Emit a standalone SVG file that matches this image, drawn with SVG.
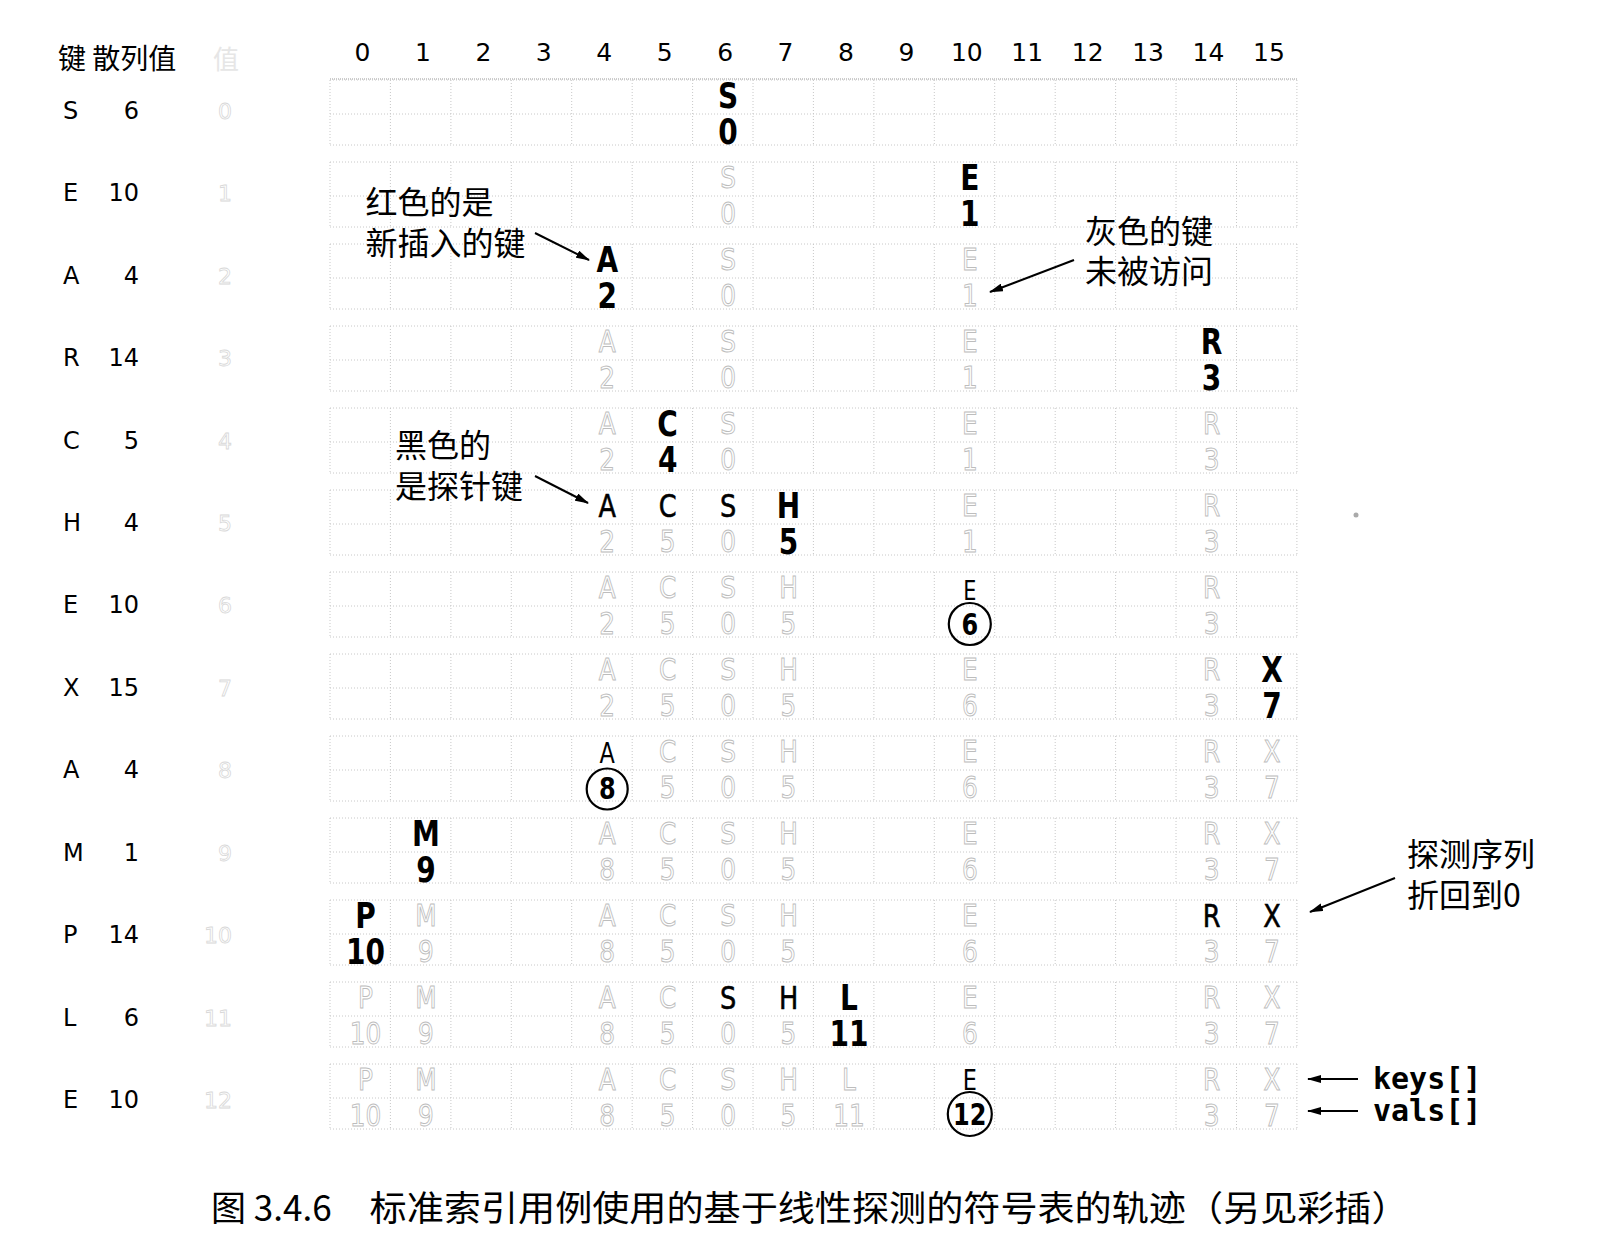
<svg xmlns="http://www.w3.org/2000/svg" xmlns:xlink="http://www.w3.org/1999/xlink" width="1601" height="1253" viewBox="0 0 1601 1253">
<style>
.kb{font-family:"DejaVu Sans",sans-serif;font-weight:bold;font-size:35px;text-anchor:middle;fill:#000}
.kg{font-family:"DejaVu Sans",sans-serif;font-size:31px;text-anchor:middle;fill:#fff;stroke:#bdbdbd;stroke-width:1}
.kp{font-family:"DejaVu Sans",sans-serif;font-size:32px;text-anchor:middle;fill:#000;stroke:#000;stroke-width:.6}
.ke{font-family:"DejaVu Sans",sans-serif;font-size:26px;text-anchor:middle;fill:#000}
.kc{font-family:"DejaVu Sans",sans-serif;font-weight:bold;font-size:30px;text-anchor:middle;fill:#000}
.circ{fill:none;stroke:#000;stroke-width:2.2}
.grid{fill:none;stroke:#c8c8c8;stroke-width:1;stroke-dasharray:1 2}
.lab{font-family:"DejaVu Sans",sans-serif;font-size:24px;fill:#000}
.idx{font-family:"DejaVu Sans",sans-serif;font-size:22px;fill:#fff;stroke:#d8d8d8;stroke-width:.8;text-anchor:end}
.hd{font-family:"DejaVu Sans",sans-serif;font-size:25px;fill:#000;text-anchor:middle}
.cjk{font-family:"Noto Sans CJK SC",sans-serif;font-size:32px;fill:#000}
.mono{font-family:"DejaVu Sans Mono",monospace;font-weight:bold;font-size:30px;fill:#000}
.arr{fill:none;stroke:#000;stroke-width:2;marker-end:url(#ah)}
</style>
<defs>
<marker id="ah" viewBox="0 0 14 8" refX="13" refY="4" markerWidth="14" markerHeight="8" markerUnits="userSpaceOnUse" orient="auto">
<path d="M0,0 L14,4 L0,8 Z" fill="#000"/>
</marker>
<path id="gridrow" class="grid" d="M330,-15H1297M330,19H1297M330,50H1297M330,-15V50M390.4,-15V50M450.9,-15V50M511.3,-15V50M571.7,-15V50M632.2,-15V50M692.6,-15V50M753,-15V50M813.4,-15V50M873.9,-15V50M934.3,-15V50M994.7,-15V50M1055.2,-15V50M1115.6,-15V50M1176,-15V50M1236.5,-15V50M1296.9,-15V50"/>
</defs>
<rect width="1601" height="1253" fill="#fff"/>

<g id="grid">
<line x1="330" y1="79" x2="1297" y2="79" stroke="#999" stroke-width="1" stroke-dasharray="1 1"/>
<use href="#gridrow" y="95"/>
<use href="#gridrow" y="177"/>
<use href="#gridrow" y="259"/>
<use href="#gridrow" y="341"/>
<use href="#gridrow" y="423"/>
<use href="#gridrow" y="505"/>
<use href="#gridrow" y="587"/>
<use href="#gridrow" y="669"/>
<use href="#gridrow" y="751"/>
<use href="#gridrow" y="833"/>
<use href="#gridrow" y="915"/>
<use href="#gridrow" y="997"/>
<use href="#gridrow" y="1079"/>
</g>

<g id="header">
<text class="cjk" x="58" y="69" style="font-size:28px">键 散列值</text>
<text class="cjk" x="213" y="69" style="font-size:26px;fill:#e6e6e6">值</text>
<text class="hd" x="362.5" y="61">0</text>
<text class="hd" x="422.9" y="61">1</text>
<text class="hd" x="483.4" y="61">2</text>
<text class="hd" x="543.8" y="61">3</text>
<text class="hd" x="604.2" y="61">4</text>
<text class="hd" x="664.7" y="61">5</text>
<text class="hd" x="725.1" y="61">6</text>
<text class="hd" x="785.5" y="61">7</text>
<text class="hd" x="845.9" y="61">8</text>
<text class="hd" x="906.4" y="61">9</text>
<text class="hd" x="966.8" y="61">10</text>
<text class="hd" x="1027.2" y="61">11</text>
<text class="hd" x="1087.7" y="61">12</text>
<text class="hd" x="1148.1" y="61">13</text>
<text class="hd" x="1208.5" y="61">14</text>
<text class="hd" x="1268.9" y="61">15</text>
</g>

<g id="labels">
<text class="lab" x="63" y="118.7">S</text><text class="lab" x="139" y="118.7" text-anchor="end">6</text><text class="idx" x="232" y="118.7">0</text>
<text class="lab" x="63" y="201.2">E</text><text class="lab" x="139" y="201.2" text-anchor="end">10</text><text class="idx" x="232" y="201.2">1</text>
<text class="lab" x="63" y="283.6">A</text><text class="lab" x="139" y="283.6" text-anchor="end">4</text><text class="idx" x="232" y="283.6">2</text>
<text class="lab" x="63" y="366.1">R</text><text class="lab" x="139" y="366.1" text-anchor="end">14</text><text class="idx" x="232" y="366.1">3</text>
<text class="lab" x="63" y="448.5">C</text><text class="lab" x="139" y="448.5" text-anchor="end">5</text><text class="idx" x="232" y="448.5">4</text>
<text class="lab" x="63" y="531">H</text><text class="lab" x="139" y="531" text-anchor="end">4</text><text class="idx" x="232" y="531">5</text>
<text class="lab" x="63" y="613.4">E</text><text class="lab" x="139" y="613.4" text-anchor="end">10</text><text class="idx" x="232" y="613.4">6</text>
<text class="lab" x="63" y="695.9">X</text><text class="lab" x="139" y="695.9" text-anchor="end">15</text><text class="idx" x="232" y="695.9">7</text>
<text class="lab" x="63" y="778.3">A</text><text class="lab" x="139" y="778.3" text-anchor="end">4</text><text class="idx" x="232" y="778.3">8</text>
<text class="lab" x="63" y="860.8">M</text><text class="lab" x="139" y="860.8" text-anchor="end">1</text><text class="idx" x="232" y="860.8">9</text>
<text class="lab" x="63" y="943.2">P</text><text class="lab" x="139" y="943.2" text-anchor="end">14</text><text class="idx" x="232" y="943.2">10</text>
<text class="lab" x="63" y="1025.7">L</text><text class="lab" x="139" y="1025.7" text-anchor="end">6</text><text class="idx" x="232" y="1025.7">11</text>
<text class="lab" x="63" y="1108.1">E</text><text class="lab" x="139" y="1108.1" text-anchor="end">10</text><text class="idx" x="232" y="1108.1">12</text>
</g>

<g id="row0" transform="translate(3,95)"><g transform="scale(.8,1)">
<text class="kb" x="906.4" y="13">S</text><text class="kb" x="906.4" y="49">0</text>
</g></g>

<g id="row1" transform="translate(3,177)"><g transform="scale(.8,1)">
<text class="kg" x="906.4" y="11">S</text><text class="kg" x="906.4" y="47">0</text>
<text class="kb" x="1208.5" y="13">E</text><text class="kb" x="1208.5" y="49">1</text>
</g></g>

<g id="row2" transform="translate(3,259)"><g transform="scale(.8,1)">
<text class="kb" x="755.3" y="13">A</text><text class="kb" x="755.3" y="49">2</text>
<text class="kg" x="906.4" y="11">S</text><text class="kg" x="906.4" y="47">0</text>
<text class="kg" x="1208.5" y="11">E</text><text class="kg" x="1208.5" y="47">1</text>
</g></g>

<g id="row3" transform="translate(3,341)"><g transform="scale(.8,1)">
<text class="kg" x="755.3" y="11">A</text><text class="kg" x="755.3" y="47">2</text>
<text class="kg" x="906.4" y="11">S</text><text class="kg" x="906.4" y="47">0</text>
<text class="kg" x="1208.5" y="11">E</text><text class="kg" x="1208.5" y="47">1</text>
<text class="kb" x="1510.7" y="13">R</text><text class="kb" x="1510.7" y="49">3</text>
</g></g>

<g id="row4" transform="translate(3,423)"><g transform="scale(.8,1)">
<text class="kg" x="755.3" y="11">A</text><text class="kg" x="755.3" y="47">2</text>
<text class="kb" x="830.8" y="13">C</text><text class="kb" x="830.8" y="49">4</text>
<text class="kg" x="906.4" y="11">S</text><text class="kg" x="906.4" y="47">0</text>
<text class="kg" x="1208.5" y="11">E</text><text class="kg" x="1208.5" y="47">1</text>
<text class="kg" x="1510.7" y="11">R</text><text class="kg" x="1510.7" y="47">3</text>
</g></g>

<g id="row5" transform="translate(3,505)"><g transform="scale(.8,1)">
<text class="kp" x="755.3" y="12">A</text><text class="kg" x="755.3" y="47">2</text>
<text class="kp" x="830.8" y="12">C</text><text class="kg" x="830.8" y="47">5</text>
<text class="kp" x="906.4" y="12">S</text><text class="kg" x="906.4" y="47">0</text>
<text class="kb" x="981.9" y="13">H</text><text class="kb" x="981.9" y="49">5</text>
<text class="kg" x="1208.5" y="11">E</text><text class="kg" x="1208.5" y="47">1</text>
<text class="kg" x="1510.7" y="11">R</text><text class="kg" x="1510.7" y="47">3</text>
</g></g>

<g id="row6" transform="translate(3,587)">
<g transform="scale(.8,1)">
<text class="kg" x="755.3" y="11">A</text><text class="kg" x="755.3" y="47">2</text>
<text class="kg" x="830.8" y="11">C</text><text class="kg" x="830.8" y="47">5</text>
<text class="kg" x="906.4" y="11">S</text><text class="kg" x="906.4" y="47">0</text>
<text class="kg" x="981.9" y="11">H</text><text class="kg" x="981.9" y="47">5</text>
<text class="ke" x="1208.5" y="13">E</text><text class="kc" x="1208.5" y="48">6</text>
<text class="kg" x="1510.7" y="11">R</text><text class="kg" x="1510.7" y="47">3</text>
</g>
<circle class="circ" cx="966.8" cy="37" r="21"/>
</g>

<g id="row7" transform="translate(3,669)"><g transform="scale(.8,1)">
<text class="kg" x="755.3" y="11">A</text><text class="kg" x="755.3" y="47">2</text>
<text class="kg" x="830.8" y="11">C</text><text class="kg" x="830.8" y="47">5</text>
<text class="kg" x="906.4" y="11">S</text><text class="kg" x="906.4" y="47">0</text>
<text class="kg" x="981.9" y="11">H</text><text class="kg" x="981.9" y="47">5</text>
<text class="kg" x="1208.5" y="11">E</text><text class="kg" x="1208.5" y="47">6</text>
<text class="kg" x="1510.7" y="11">R</text><text class="kg" x="1510.7" y="47">3</text>
<text class="kb" x="1586.2" y="13">X</text><text class="kb" x="1586.2" y="49">7</text>
</g></g>

<g id="row8" transform="translate(3,751)">
<g transform="scale(.8,1)">
<text class="ke" x="755.3" y="12" style="font-size:28px">A</text><text class="kc" x="755.3" y="48">8</text>
<text class="kg" x="830.8" y="11">C</text><text class="kg" x="830.8" y="47">5</text>
<text class="kg" x="906.4" y="11">S</text><text class="kg" x="906.4" y="47">0</text>
<text class="kg" x="981.9" y="11">H</text><text class="kg" x="981.9" y="47">5</text>
<text class="kg" x="1208.5" y="11">E</text><text class="kg" x="1208.5" y="47">6</text>
<text class="kg" x="1510.7" y="11">R</text><text class="kg" x="1510.7" y="47">3</text>
<text class="kg" x="1586.2" y="11">X</text><text class="kg" x="1586.2" y="47">7</text>
</g>
<circle class="circ" cx="604.2" cy="38" r="20.5"/>
</g>

<g id="row9" transform="translate(3,833)"><g transform="scale(.8,1)">
<text class="kb" x="528.7" y="13">M</text><text class="kb" x="528.7" y="49">9</text>
<text class="kg" x="755.3" y="11">A</text><text class="kg" x="755.3" y="47">8</text>
<text class="kg" x="830.8" y="11">C</text><text class="kg" x="830.8" y="47">5</text>
<text class="kg" x="906.4" y="11">S</text><text class="kg" x="906.4" y="47">0</text>
<text class="kg" x="981.9" y="11">H</text><text class="kg" x="981.9" y="47">5</text>
<text class="kg" x="1208.5" y="11">E</text><text class="kg" x="1208.5" y="47">6</text>
<text class="kg" x="1510.7" y="11">R</text><text class="kg" x="1510.7" y="47">3</text>
<text class="kg" x="1586.2" y="11">X</text><text class="kg" x="1586.2" y="47">7</text>
</g></g>

<g id="row10" transform="translate(3,915)"><g transform="scale(.8,1)">
<text class="kb" x="453.1" y="13">P</text><text class="kb" x="453.1" y="49">10</text>
<text class="kg" x="528.7" y="11">M</text><text class="kg" x="528.7" y="47">9</text>
<text class="kg" x="755.3" y="11">A</text><text class="kg" x="755.3" y="47">8</text>
<text class="kg" x="830.8" y="11">C</text><text class="kg" x="830.8" y="47">5</text>
<text class="kg" x="906.4" y="11">S</text><text class="kg" x="906.4" y="47">0</text>
<text class="kg" x="981.9" y="11">H</text><text class="kg" x="981.9" y="47">5</text>
<text class="kg" x="1208.5" y="11">E</text><text class="kg" x="1208.5" y="47">6</text>
<text class="kp" x="1510.7" y="12">R</text><text class="kg" x="1510.7" y="47">3</text>
<text class="kp" x="1586.2" y="12">X</text><text class="kg" x="1586.2" y="47">7</text>
</g></g>

<g id="row11" transform="translate(3,997)"><g transform="scale(.8,1)">
<text class="kg" x="453.1" y="11">P</text><text class="kg" x="453.1" y="47">10</text>
<text class="kg" x="528.7" y="11">M</text><text class="kg" x="528.7" y="47">9</text>
<text class="kg" x="755.3" y="11">A</text><text class="kg" x="755.3" y="47">8</text>
<text class="kg" x="830.8" y="11">C</text><text class="kg" x="830.8" y="47">5</text>
<text class="kp" x="906.4" y="12">S</text><text class="kg" x="906.4" y="47">0</text>
<text class="kp" x="981.9" y="12">H</text><text class="kg" x="981.9" y="47">5</text>
<text class="kb" x="1057.4" y="13">L</text><text class="kb" x="1057.4" y="49">11</text>
<text class="kg" x="1208.5" y="11">E</text><text class="kg" x="1208.5" y="47">6</text>
<text class="kg" x="1510.7" y="11">R</text><text class="kg" x="1510.7" y="47">3</text>
<text class="kg" x="1586.2" y="11">X</text><text class="kg" x="1586.2" y="47">7</text>
</g></g>

<g id="row12" transform="translate(3,1079)">
<g transform="scale(.8,1)">
<text class="kg" x="453.1" y="11">P</text><text class="kg" x="453.1" y="47">10</text>
<text class="kg" x="528.7" y="11">M</text><text class="kg" x="528.7" y="47">9</text>
<text class="kg" x="755.3" y="11">A</text><text class="kg" x="755.3" y="47">8</text>
<text class="kg" x="830.8" y="11">C</text><text class="kg" x="830.8" y="47">5</text>
<text class="kg" x="906.4" y="11">S</text><text class="kg" x="906.4" y="47">0</text>
<text class="kg" x="981.9" y="11">H</text><text class="kg" x="981.9" y="47">5</text>
<text class="kg" x="1057.4" y="11">L</text><text class="kg" x="1057.4" y="47">11</text>
<text class="ke" x="1208.5" y="11" style="font-size:28px">E</text><text class="kc" x="1208.5" y="46">12</text>
<text class="kg" x="1510.7" y="11">R</text><text class="kg" x="1510.7" y="47">3</text>
<text class="kg" x="1586.2" y="11">X</text><text class="kg" x="1586.2" y="47">7</text>
</g>
<circle class="circ" cx="966.8" cy="35" r="22"/>
</g>

<g id="notes">
<text class="cjk" x="365.5" y="213.5">红色的是<tspan x="365.5" y="254.5">新插入的键</tspan></text>
<text class="cjk" x="1085" y="242.5">灰色的键<tspan x="1085" y="283">未被访问</tspan></text>
<text class="cjk" x="395" y="456.5">黑色的<tspan x="395" y="497.5">是探针键</tspan></text>
<text class="cjk" x="1407" y="866">探测序列<tspan x="1407" y="906.5">折回到0</tspan></text>
<text class="mono" x="1373" y="1089">keys[]</text>
<text class="mono" x="1373" y="1121">vals[]</text>
</g>

<g id="connectors">
<line class="arr" x1="535" y1="233" x2="589" y2="260"/>
<line class="arr" x1="1074" y1="260" x2="990" y2="292"/>
<line class="arr" x1="535" y1="476" x2="588" y2="503"/>
<line class="arr" x1="1395" y1="878" x2="1310" y2="912"/>
<line class="arr" x1="1358" y1="1079" x2="1308" y2="1079"/>
<line class="arr" x1="1358" y1="1111" x2="1308" y2="1111"/>
</g>

<g id="caption">
<text class="cjk" x="211" y="1221" style="font-size:35px">图 3.4.6</text>
<text class="cjk" x="369.6" y="1221" style="font-size:35px" textLength="1039" lengthAdjust="spacingAndGlyphs">标准索引用例使用的基于线性探测的符号表的轨迹（另见彩插）</text>
</g>

<circle cx="1356" cy="515" r="2.5" fill="#aaa"/>
</svg>
